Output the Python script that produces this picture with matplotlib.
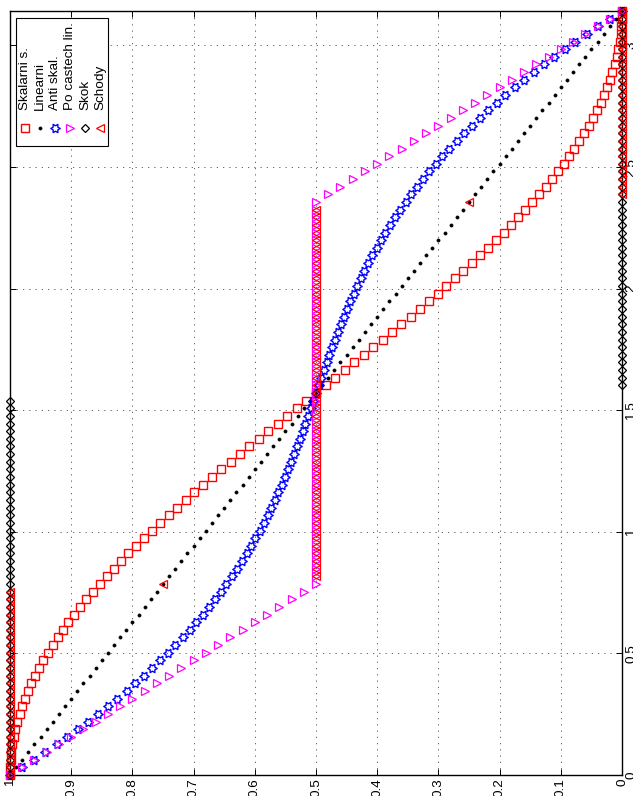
import numpy as np
import matplotlib
matplotlib.use('Agg')
import matplotlib.pyplot as plt
from matplotlib.path import Path
from matplotlib.patches import Rectangle

plt.rcParams['font.family'] = ['Liberation Sans', 'DejaVu Sans']

# angle samples 0..pi (vertical axis of the rotated figure)
angle = [0.0000, 0.0314, 0.0628, 0.0942, 0.1257, 0.1571, 0.1885, 0.2199, 0.2513, 0.2827,
         0.3142, 0.3456, 0.3770, 0.4084, 0.4398, 0.4712, 0.5027, 0.5341, 0.5655, 0.5969,
         0.6283, 0.6597, 0.6912, 0.7226, 0.7540, 0.7854, 0.8168, 0.8482, 0.8796, 0.9111,
         0.9425, 0.9739, 1.0053, 1.0367, 1.0681, 1.0996, 1.1310, 1.1624, 1.1938, 1.2252,
         1.2566, 1.2881, 1.3195, 1.3509, 1.3823, 1.4137, 1.4451, 1.4765, 1.5080, 1.5394,
         1.5708, 1.6022, 1.6336, 1.6650, 1.6965, 1.7279, 1.7593, 1.7907, 1.8221, 1.8535,
         1.8850, 1.9164, 1.9478, 1.9792, 2.0106, 2.0420, 2.0735, 2.1049, 2.1363, 2.1677,
         2.1991, 2.2305, 2.2619, 2.2934, 2.3248, 2.3562, 2.3876, 2.4190, 2.4504, 2.4819,
         2.5133, 2.5447, 2.5761, 2.6075, 2.6389, 2.6704, 2.7018, 2.7332, 2.7646, 2.7960,
         2.8274, 2.8588, 2.8903, 2.9217, 2.9531, 2.9845, 3.0159, 3.0473, 3.0788, 3.1102,
         3.1416]

skalarni = [1.0000, 0.9998, 0.9990, 0.9978, 0.9961, 0.9938, 0.9911, 0.9880, 0.9843, 0.9801,
            0.9755, 0.9704, 0.9649, 0.9589, 0.9524, 0.9455, 0.9382, 0.9304, 0.9222, 0.9135,
            0.9045, 0.8951, 0.8853, 0.8751, 0.8645, 0.8536, 0.8423, 0.8307, 0.8187, 0.8065,
            0.7939, 0.7810, 0.7679, 0.7545, 0.7409, 0.7270, 0.7129, 0.6986, 0.6841, 0.6694,
            0.6545, 0.6395, 0.6243, 0.6091, 0.5937, 0.5782, 0.5627, 0.5471, 0.5314, 0.5157,
            0.5000, 0.4843, 0.4686, 0.4529, 0.4373, 0.4218, 0.4063, 0.3909, 0.3757, 0.3606,
            0.3455, 0.3306, 0.3159, 0.3014, 0.2871, 0.2730, 0.2591, 0.2455, 0.2321, 0.2190,
            0.2061, 0.1935, 0.1813, 0.1693, 0.1577, 0.1464, 0.1355, 0.1249, 0.1147, 0.1049,
            0.0955, 0.0865, 0.0778, 0.0696, 0.0618, 0.0545, 0.0476, 0.0411, 0.0351, 0.0296,
            0.0245, 0.0199, 0.0157, 0.0120, 0.0089, 0.0062, 0.0039, 0.0022, 0.0010, 0.0002,
            0.0000]

linearni = [1.00, 0.99, 0.98, 0.97, 0.96, 0.95, 0.94, 0.93, 0.92, 0.91,
            0.90, 0.89, 0.88, 0.87, 0.86, 0.85, 0.84, 0.83, 0.82, 0.81,
            0.80, 0.79, 0.78, 0.77, 0.76, 0.75, 0.74, 0.73, 0.72, 0.71,
            0.70, 0.69, 0.68, 0.67, 0.66, 0.65, 0.64, 0.63, 0.62, 0.61,
            0.60, 0.59, 0.58, 0.57, 0.56, 0.55, 0.54, 0.53, 0.52, 0.51,
            0.50, 0.49, 0.48, 0.47, 0.46, 0.45, 0.44, 0.43, 0.42, 0.41,
            0.40, 0.39, 0.38, 0.37, 0.36, 0.35, 0.34, 0.33, 0.32, 0.31,
            0.30, 0.29, 0.28, 0.27, 0.26, 0.25, 0.24, 0.23, 0.22, 0.21,
            0.20, 0.19, 0.18, 0.17, 0.16, 0.15, 0.14, 0.13, 0.12, 0.11,
            0.10, 0.09, 0.08, 0.07, 0.06, 0.05, 0.04, 0.03, 0.02, 0.01,
            0.00]

anti_skal = [1.0000, 0.9802, 0.9610, 0.9422, 0.9239, 0.9062, 0.8889, 0.8720, 0.8557, 0.8399,
             0.8245, 0.8096, 0.7951, 0.7811, 0.7676, 0.7545, 0.7418, 0.7296, 0.7178, 0.7065,
             0.6955, 0.6849, 0.6747, 0.6649, 0.6555, 0.6464, 0.6377, 0.6293, 0.6213, 0.6135,
             0.6061, 0.5990, 0.5921, 0.5855, 0.5791, 0.5730, 0.5671, 0.5614, 0.5559, 0.5506,
             0.5455, 0.5405, 0.5357, 0.5309, 0.5263, 0.5218, 0.5173, 0.5129, 0.5086, 0.5043,
             0.5000, 0.4957, 0.4914, 0.4871, 0.4827, 0.4782, 0.4737, 0.4691, 0.4643, 0.4595,
             0.4545, 0.4494, 0.4441, 0.4386, 0.4329, 0.4270, 0.4209, 0.4145, 0.4079, 0.4010,
             0.3939, 0.3865, 0.3787, 0.3707, 0.3623, 0.3536, 0.3445, 0.3351, 0.3253, 0.3151,
             0.3045, 0.2935, 0.2822, 0.2704, 0.2582, 0.2455, 0.2324, 0.2189, 0.2049, 0.1904,
             0.1755, 0.1601, 0.1443, 0.1280, 0.1111, 0.0938, 0.0761, 0.0578, 0.0390, 0.0198,
             0.0000]

po_castech = ([1.00, 0.98, 0.96, 0.94, 0.92, 0.90, 0.88, 0.86, 0.84, 0.82, 0.80, 0.78, 0.76,
               0.74, 0.72, 0.70, 0.68, 0.66, 0.64, 0.62, 0.60, 0.58, 0.56, 0.54, 0.52, 0.50]
              + [0.50] * 49
              + [0.50, 0.48, 0.46, 0.44, 0.42, 0.40, 0.38, 0.36, 0.34, 0.32, 0.30, 0.28, 0.26,
                 0.24, 0.22, 0.20, 0.18, 0.16, 0.14, 0.12, 0.10, 0.08, 0.06, 0.04, 0.02, 0.00])

skok = [1.0] * 50 + [0.5] + [0.0] * 50
schody = [1.0] * 25 + [0.75] + [0.5] * 49 + [0.25] + [0.0] * 25

labels = ['Skalarni s.', 'Linearni', 'Anti skal.', 'Po castech lin.', 'Skok', 'Schody']
x_ticks = [0, 0.1, 0.2, 0.3, 0.4, 0.5, 0.6, 0.7, 0.8, 0.9, 1]
y_ticks = [0, 0.5, 1, 1.5, 2, 2.5, 3]

# six pointed star marker (matlab 'hexagram'), turned with the figure
ang = np.deg2rad(np.arange(0, 390, 30))
rad = np.where(np.arange(13) % 2 == 0, 1.0, 0.577)
hexagram = Path(np.column_stack([rad * np.cos(ang), rad * np.sin(ang)]), closed=True)

styles = [
    dict(marker='s', mfc='none', mec='#ff0000', ms=5.2, mew=1.0),
    dict(marker='.', mfc='k', mec='k', ms=4.5, mew=0.5),
    dict(marker=hexagram, mfc='none', mec='#0000ff', ms=6.8, mew=1.0),
    dict(marker='>', mfc='none', mec='#ff00ff', ms=5.7, mew=0.9),
    dict(marker='D', mfc='none', mec='k', ms=3.9, mew=0.9),
    dict(marker='<', mfc='none', mec='#ff0000', ms=5.7, mew=0.9),
]
series = [skalarni, linearni, anti_skal, po_castech, skok, schody]

fig = plt.figure(figsize=(6.33, 7.96), dpi=100)
ax = fig.add_axes([10 / 633, 21 / 796, 612 / 633, 764 / 796])

for vals, st in zip(series, styles):
    ax.plot(vals, angle, linestyle='none', clip_on=False, zorder=3, **st)

ax.set_xlim(1, 0)
ax.set_ylim(angle[0], angle[-1])
ax.set_xticks(x_ticks)
ax.set_xticklabels(['%g' % t for t in x_ticks])
ax.set_yticks(y_ticks)
ax.set_yticklabels(['%g' % t for t in y_ticks])

ax.tick_params(direction='in', length=4, width=0.7, top=True, right=True,
               labelsize=9.7, pad=2.5)
ax.tick_params(axis='y', left=True, labelleft=False, labelright=True)
for lab in ax.get_xticklabels():
    lab.set_rotation(90)
    lab.set_va('top')
    lab.set_ha('center')
for lab in ax.get_yticklabels():
    lab.set_rotation(90)
    lab.set_va('center')
    lab.set_ha('left')

ax.grid(True, linestyle=(0, (1.5, 6)), color='0.3', linewidth=0.6)
for sp in ax.spines.values():
    sp.set_linewidth(1.0)

# legend, drawn by hand because the text is turned
ax.add_patch(Rectangle((0.0098, 0.8233), 0.1503, 0.1675, transform=ax.transAxes,
                       facecolor='white', edgecolor='k', linewidth=0.8, zorder=5))
for i, (name, st) in enumerate(zip(labels, styles)):
    xpos = 0.0245 * (i + 1)
    ax.plot([xpos], [0.8469], transform=ax.transAxes, linestyle='none',
            clip_on=False, zorder=6, **st)
    ax.text(xpos, 0.8704, name, transform=ax.transAxes, rotation=90,
            ha='center', va='bottom', fontsize=9.7, zorder=6)

fig.savefig('out.png', dpi=100)
